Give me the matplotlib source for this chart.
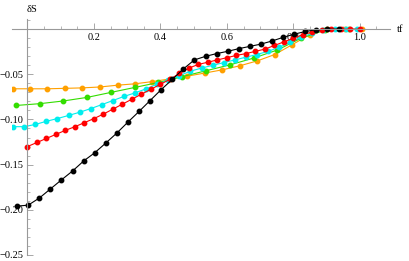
#Grafica de dS contra tf para varias curvas
import numpy as np
import matplotlib.pyplot as plt
from matplotlib.ticker import MultipleLocator, FuncFormatter

#Datos
x_black = [-0.031, 0.002, 0.036, 0.069, 0.102, 0.136, 0.169, 0.202, 0.236, 0.269,
           0.302, 0.336, 0.369, 0.402, 0.436, 0.469, 0.502, 0.536, 0.569, 0.602,
           0.636, 0.669, 0.702, 0.736, 0.769, 0.802, 0.836, 0.869, 0.902, 0.936]
y_black = [-0.196, -0.195, -0.187, -0.177, -0.167, -0.157, -0.146, -0.137, -0.126, -0.115,
           -0.103, -0.091, -0.079, -0.067, -0.0555, -0.044, -0.034, -0.030, -0.027, -0.0245,
           -0.0215, -0.019, -0.0165, -0.013, -0.009, -0.0055, -0.0025, -0.0005, 0.0, 0.0]

x_red = [0.0, 0.0286, 0.0571, 0.0857, 0.1143, 0.1429, 0.1714, 0.2, 0.2286, 0.2571,
         0.2857, 0.3143, 0.3429, 0.3714, 0.4, 0.4286, 0.4571, 0.4857, 0.5143, 0.5429,
         0.5714, 0.6, 0.6286, 0.6571, 0.6857, 0.7143, 0.7429, 0.7714, 0.8, 0.8286,
         0.8571, 0.8857, 0.9143, 0.9429, 0.9714, 1.0]
y_red = [-0.130, -0.1255, -0.121, -0.1165, -0.112, -0.108, -0.1035, -0.099, -0.094, -0.0885,
         -0.083, -0.0775, -0.072, -0.0665, -0.061, -0.0555, -0.049, -0.043, -0.039, -0.0365,
         -0.034, -0.0315, -0.029, -0.027, -0.0245, -0.022, -0.018, -0.014, -0.010, -0.006,
         -0.003, -0.001, 0.0, 0.0, 0.0, 0.0]

x_cyan = [-0.043, -0.010, 0.024, 0.057, 0.090, 0.124, 0.157, 0.190, 0.224, 0.257,
          0.290, 0.324, 0.357, 0.390, 0.424, 0.457, 0.490, 0.524, 0.557, 0.590,
          0.624, 0.657, 0.690, 0.724, 0.757, 0.790, 0.824, 0.857, 0.890, 0.924,
          0.957, 0.990]
y_cyan = [-0.108, -0.108, -0.1055, -0.102, -0.099, -0.0955, -0.092, -0.088, -0.0835, -0.079,
          -0.0745, -0.0705, -0.066, -0.061, -0.0565, -0.0515, -0.0465, -0.043, -0.040, -0.037,
          -0.034, -0.031, -0.028, -0.0245, -0.020, -0.0145, -0.009, -0.0045, -0.001, 0.0,
          0.0, 0.0]

x_green = [-0.035, 0.037, 0.108, 0.180, 0.251, 0.323, 0.394, 0.466, 0.537, 0.609,
           0.680, 0.752, 0.823, 0.895, 0.966]
y_green = [-0.0845, -0.0825, -0.0795, -0.0755, -0.070, -0.0645, -0.059, -0.0525, -0.046, -0.0395,
           -0.032, -0.023, -0.010, -0.001, 0.0]

x_orange = [-0.045, 0.008, 0.060, 0.113, 0.165, 0.218, 0.271, 0.323, 0.376, 0.429,
            0.481, 0.534, 0.586, 0.639, 0.692, 0.744, 0.797, 0.849, 0.902, 0.955, 1.007]
y_orange = [-0.066, -0.066, -0.066, -0.0655, -0.065, -0.064, -0.062, -0.0605, -0.058, -0.055,
            -0.052, -0.0485, -0.045, -0.0405, -0.035, -0.028, -0.017, -0.006, 0.0, 0.0, 0.0]

plt.rcParams['font.family'] = ['Liberation Serif', 'DejaVu Serif']

fig = plt.figure(figsize=(4.09, 2.61), dpi=100)
ax = fig.add_axes([0.029, 0.022, 0.924, 0.904])

series = [(x_orange, y_orange, '#FFA000'),
          (x_green, y_green, '#33DD00'),
          (x_cyan, y_cyan, '#00EEEE'),
          (x_red, y_red, '#FF0000'),
          (x_black, y_black, '#000000')]
for xs, ys, c in series:
	ax.plot(xs, ys, '-o', color=c, lw=0.8, ms=3.2, mec=c, mfc=c)

ax.set_xlim(-0.047, 1.09)
ax.set_ylim(-0.2505, 0.011)

#Ejes tipo Mathematica que cruzan en el origen
for s in ['top', 'right']:
	ax.spines[s].set_visible(False)
ax.spines['left'].set_position(('data', 0))
ax.spines['bottom'].set_position(('data', 0))
for s in ['left', 'bottom']:
	ax.spines[s].set_color('#999999')
	ax.spines[s].set_linewidth(0.8)

ax.xaxis.set_major_locator(MultipleLocator(0.2))
ax.xaxis.set_minor_locator(MultipleLocator(0.05))
ax.yaxis.set_major_locator(MultipleLocator(0.05))
ax.yaxis.set_minor_locator(MultipleLocator(0.01))

def fmt_x(v, pos):
	if abs(v) < 1e-9:
		return ''
	return '%.1f' % v

def fmt_y(v, pos):
	if abs(v) < 1e-9:
		return ''
	return ('%.2f' % v).replace('-', '\u2212')

ax.xaxis.set_major_formatter(FuncFormatter(fmt_x))
ax.yaxis.set_major_formatter(FuncFormatter(fmt_y))
ax.tick_params(axis='x', which='major', direction='in', length=4, width=0.6,
               color='#999999', labelsize=7.5, pad=3)
ax.tick_params(axis='x', which='minor', direction='in', length=2, width=0.5, color='#999999')
ax.tick_params(axis='y', which='major', direction='in', length=4, width=0.6,
               color='#999999', labelsize=7.5, pad=3)
ax.tick_params(axis='y', which='minor', direction='in', length=2, width=0.5, color='#999999')
ax.patch.set_visible(False)

ax.text(0.015, 0.017, '\u03b4S', ha='center', va='bottom', fontsize=7.5)
ax.text(1.11, 0, 'tf', ha='left', va='center', fontsize=7.5)

plt.savefig('out.png', dpi=100)
